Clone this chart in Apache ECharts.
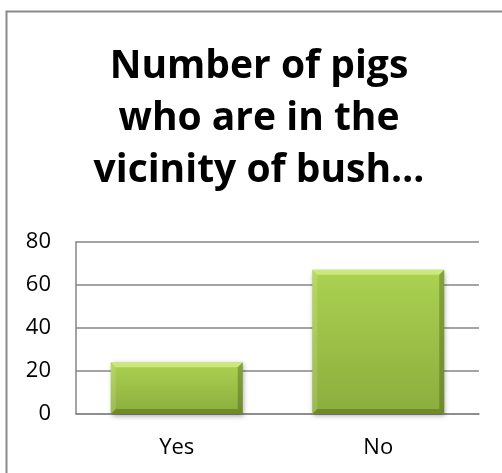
<!DOCTYPE html>
<html>
<head>
<meta charset="utf-8">
<script src="https://cdn.jsdelivr.net/npm/echarts@6/dist/echarts.min.js"></script>
<style>
  html, body { margin: 0; padding: 0; background: #fff; }
  #chart { width: 502px; height: 473px; }
</style>
</head>
<body>
<div id="chart"></div>
<script>
// Survey answers and counts
const categories = ['Yes', 'No'];
const pigCounts = [24, 67];
const yTicks = { min: 0, max: 80, step: 20 };
const titleLines = ['Number of pigs', 'who are in the', 'vicinity of bush…'];

const chart = echarts.init(document.getElementById('chart'), null, { renderer: 'canvas' });

const barFill = new echarts.graphic.LinearGradient(0, 0, 0, 1, [
  { offset: 0, color: '#abd251' },
  { offset: 1, color: '#8cad3d' }
]);

// Bevelled bar: body rectangle plus four edge facets
function renderBevelBar(params, api) {
  const top = api.coord([api.value(0), api.value(1)]);
  const base = api.coord([api.value(0), 0]);
  const bw = api.size([1, 0])[0] * 0.655;
  const x = top[0] - bw / 2, y = top[1], w = bw, h = base[1] - top[1];
  const b = Math.min(5, h / 2);
  return {
    type: 'group',
    children: [
      { type: 'rect', shape: { x, y, width: w, height: h },
        style: { fill: barFill, shadowBlur: 5, shadowOffsetX: 1, shadowOffsetY: 2, shadowColor: 'rgba(0,0,0,0.35)' } },
      { type: 'polygon', shape: { points: [[x, y], [x + w, y], [x + w - b, y + b], [x + b, y + b]] },
        style: { fill: 'rgba(235,255,170,0.5)' } },
      { type: 'polygon', shape: { points: [[x, y], [x + b, y + b], [x + b, y + h - b], [x, y + h]] },
        style: { fill: 'rgba(255,255,210,0.15)' } },
      { type: 'polygon', shape: { points: [[x + w, y], [x + w, y + h], [x + w - b, y + h - b], [x + w - b, y + b]] },
        style: { fill: 'rgba(40,60,0,0.30)' } },
      { type: 'polygon', shape: { points: [[x, y + h], [x + w, y + h], [x + w - b, y + h - b], [x + b, y + h - b]] },
        style: { fill: 'rgba(40,60,0,0.30)' } }
    ]
  };
}

const option = {
  animation: false,
  backgroundColor: '#ffffff',
  graphic: [
    // chart frame (left and top edges fall inside the view)
    { type: 'rect', shape: { x: 6.5, y: 11.5, width: 530, height: 520 },
      style: { fill: 'none', stroke: '#8a8a8a', lineWidth: 2 }, silent: true },
    { type: 'text', x: 259, y: 41, silent: true,
      style: {
        text: titleLines.join('\n'),
        textAlign: 'center',
        textVerticalAlign: 'top',
        fontFamily: 'Open Sans',
        fontWeight: 'bold',
        fontSize: 39,
        lineHeight: 52,
        fill: '#000'
      } }
  ],
  grid: { left: 76, right: 23, top: 241.7, bottom: 59, containLabel: false },
  xAxis: {
    type: 'category',
    data: categories,
    axisLine: { show: true, lineStyle: { color: '#868686', width: 1.5 } },
    axisTick: { show: false },
    axisLabel: { margin: 23, fontFamily: 'Open Sans', fontSize: 22, color: '#000' }
  },
  yAxis: {
    type: 'value',
    min: yTicks.min,
    max: yTicks.max,
    interval: yTicks.step,
    axisLine: { show: true, lineStyle: { color: '#868686', width: 1.5 } },
    axisTick: { show: false },
    splitLine: { show: true, lineStyle: { color: '#868686', width: 1.5 } },
    axisLabel: { margin: 25, fontFamily: 'Open Sans', fontSize: 22, color: '#000' }
  },
  series: [{
    type: 'custom',
    renderItem: renderBevelBar,
    encode: { x: 0, y: 1 },
    data: categories.map((c, i) => [i, pigCounts[i]]),
    z: 5
  }]
};

chart.setOption(option);
</script>
</body>
</html>
